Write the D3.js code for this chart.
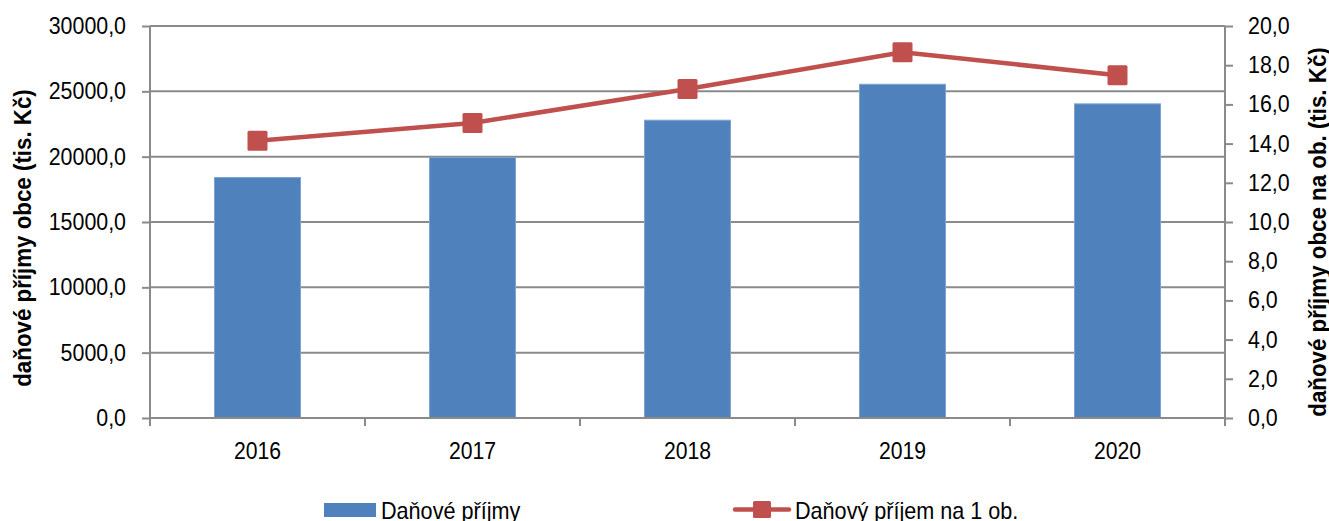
<!DOCTYPE html>
<html lang="cs">
<head>
<meta charset="utf-8">
<script src="https://cdn.jsdelivr.net/npm/d3@7/dist/d3.min.js"></script>
<style>
  html, body { margin: 0; padding: 0; background: #fff; }
  svg { display: block; font-family: "Liberation Sans", Arial, sans-serif; }
  .tick text, .year-label { font-size: 23.5px; fill: #000; }
  .axis-title { font-size: 23px; font-weight: bold; fill: #000; }
  .legend-text { font-size: 24px; fill: #000; }
</style>
</head>
<body>
<div id="chart"></div>
<script>
'use strict';

// Data
const years = ['2016', '2017', '2018', '2019', '2020'];
const taxIncome = [18400, 19930, 22790, 25540, 24040];   // Daňové příjmy (tis. Kč)
const taxPerCapita = [14.14, 15.05, 16.79, 18.66, 17.49]; // Daňový příjem na 1 ob.
const leftTicks = [0, 5000, 10000, 15000, 20000, 25000, 30000];
const rightTicks = [0, 2, 4, 6, 8, 10, 12, 14, 16, 18, 20];

const width = 1329;
const height = 521;
const plot = { left: 150, right: 1225, top: 26, bottom: 418 };

const BLUE = '#4F81BD';
const RED = '#C0504D';
const GRID = '#8a8a8a';

const svg = d3.select('#chart')
  .append('svg')
  .attr('width', width)
  .attr('height', height);

const x = d3.scaleBand()
  .domain(years)
  .range([plot.left, plot.right])
  .paddingInner(0.6)
  .paddingOuter(0.3);

// category boundaries for the x-axis tick marks
const xb = d3.scaleLinear().domain([0, years.length]).range([plot.left, plot.right]);

const yL = d3.scaleLinear().domain([0, 30000]).range([plot.bottom, plot.top]);
const yR = d3.scaleLinear().domain([0, 20]).range([plot.bottom, plot.top]);

const fmt = d => d.toFixed(1).replace('.', ',');

// the original font is a bit narrower than Liberation Sans
function condense(sel, k) {
  sel.each(function () {
    const len = this.getComputedTextLength();
    this.setAttribute('textLength', len * k);
    this.setAttribute('lengthAdjust', 'spacingAndGlyphs');
  });
}

// gridlines (left axis)
svg.append('g')
  .selectAll('line')
  .data(leftTicks.slice(1))
  .join('line')
  .attr('x1', plot.left)
  .attr('x2', plot.right)
  .attr('y1', d => yL(d))
  .attr('y2', d => yL(d))
  .attr('stroke', GRID)
  .attr('stroke-width', 2);

// bars
svg.append('g')
  .selectAll('rect')
  .data(years)
  .join('rect')
  .attr('x', d => x(d))
  .attr('y', (d, i) => yL(taxIncome[i]))
  .attr('width', x.bandwidth())
  .attr('height', (d, i) => yL(0) - yL(taxIncome[i]))
  .attr('fill', BLUE)
  .attr('stroke', '#7fa2cf')
  .attr('stroke-width', 1);

// left axis
const gL = svg.append('g')
  .attr('transform', `translate(${plot.left},0)`)
  .call(d3.axisLeft(yL).tickValues(leftTicks).tickFormat(fmt).tickSize(8).tickPadding(16));
gL.select('.domain').attr('stroke', GRID).attr('stroke-width', 2).attr('d', `M0,${plot.top}V${plot.bottom + 8}`);
gL.selectAll('.tick line').attr('stroke', GRID).attr('stroke-width', 2);
gL.attr('font-size', null).attr('font-family', null);

// right axis
const gR = svg.append('g')
  .attr('transform', `translate(${plot.right},0)`)
  .call(d3.axisRight(yR).tickValues(rightTicks).tickFormat(fmt).tickSize(8).tickPadding(15));
gR.select('.domain').attr('stroke', GRID).attr('stroke-width', 2).attr('d', `M0,${plot.top}V${plot.bottom + 8}`);
gR.selectAll('.tick line').attr('stroke', GRID).attr('stroke-width', 2);
gR.attr('font-size', null).attr('font-family', null);

// x axis
svg.append('line')
  .attr('x1', plot.left).attr('x2', plot.right)
  .attr('y1', plot.bottom).attr('y2', plot.bottom)
  .attr('stroke', GRID).attr('stroke-width', 2);

svg.append('g')
  .selectAll('line')
  .data(d3.range(1, years.length))
  .join('line')
  .attr('x1', d => xb(d)).attr('x2', d => xb(d))
  .attr('y1', plot.bottom).attr('y2', plot.bottom + 8)
  .attr('stroke', GRID).attr('stroke-width', 2);

const yearLabels = svg.append('g')
  .selectAll('text')
  .data(years)
  .join('text')
  .attr('class', 'year-label')
  .attr('x', d => x(d) + x.bandwidth() / 2)
  .attr('y', 459)
  .attr('text-anchor', 'middle')
  .text(d => d);

// line series
const line = d3.line()
  .x((d, i) => x(years[i]) + x.bandwidth() / 2)
  .y(d => yR(d));

svg.append('path')
  .datum(taxPerCapita)
  .attr('d', line)
  .attr('fill', 'none')
  .attr('stroke', RED)
  .attr('stroke-width', 4.5)
  .attr('stroke-linejoin', 'round');

const M = 20;
svg.append('g')
  .selectAll('rect')
  .data(taxPerCapita)
  .join('rect')
  .attr('x', (d, i) => x(years[i]) + x.bandwidth() / 2 - M / 2)
  .attr('y', d => yR(d) - M / 2)
  .attr('width', M)
  .attr('height', M)
  .attr('rx', 1.5)
  .attr('fill', RED);

// axis titles
const titleL = svg.append('text')
  .attr('class', 'axis-title')
  .attr('transform', `translate(31,238) rotate(-90)`)
  .attr('text-anchor', 'middle')
  .text('daňové příjmy obce (tis. Kč)');

const titleR = svg.append('text')
  .attr('class', 'axis-title')
  .attr('transform', `translate(1326,232) rotate(-90)`)
  .attr('text-anchor', 'middle')
  .text('daňové příjmy obce na ob. (tis. Kč)');

// legend
const lg = svg.append('g');
lg.append('rect')
  .attr('x', 324).attr('y', 503)
  .attr('width', 52).attr('height', 14)
  .attr('fill', BLUE);
lg.append('text')
  .attr('class', 'legend-text')
  .attr('x', 381).attr('y', 519)
  .text('Daňové příjmy');

lg.append('line')
  .attr('x1', 735).attr('x2', 789)
  .attr('y1', 509.5).attr('y2', 509.5)
  .attr('stroke', RED).attr('stroke-width', 4.5)
  .attr('stroke-linecap', 'round');
lg.append('rect')
  .attr('x', 753).attr('y', 501)
  .attr('width', 18).attr('height', 17)
  .attr('rx', 1.5)
  .attr('fill', RED);
lg.append('text')
  .attr('class', 'legend-text')
  .attr('x', 795).attr('y', 519)
  .text('Daňový příjem na 1 ob.');

condense(svg.selectAll('.tick text'), 0.91);
condense(yearLabels, 0.9);
condense(lg.selectAll('text'), 0.9);
condense(titleL, 0.97);
condense(titleR, 0.97);
</script>
</body>
</html>
